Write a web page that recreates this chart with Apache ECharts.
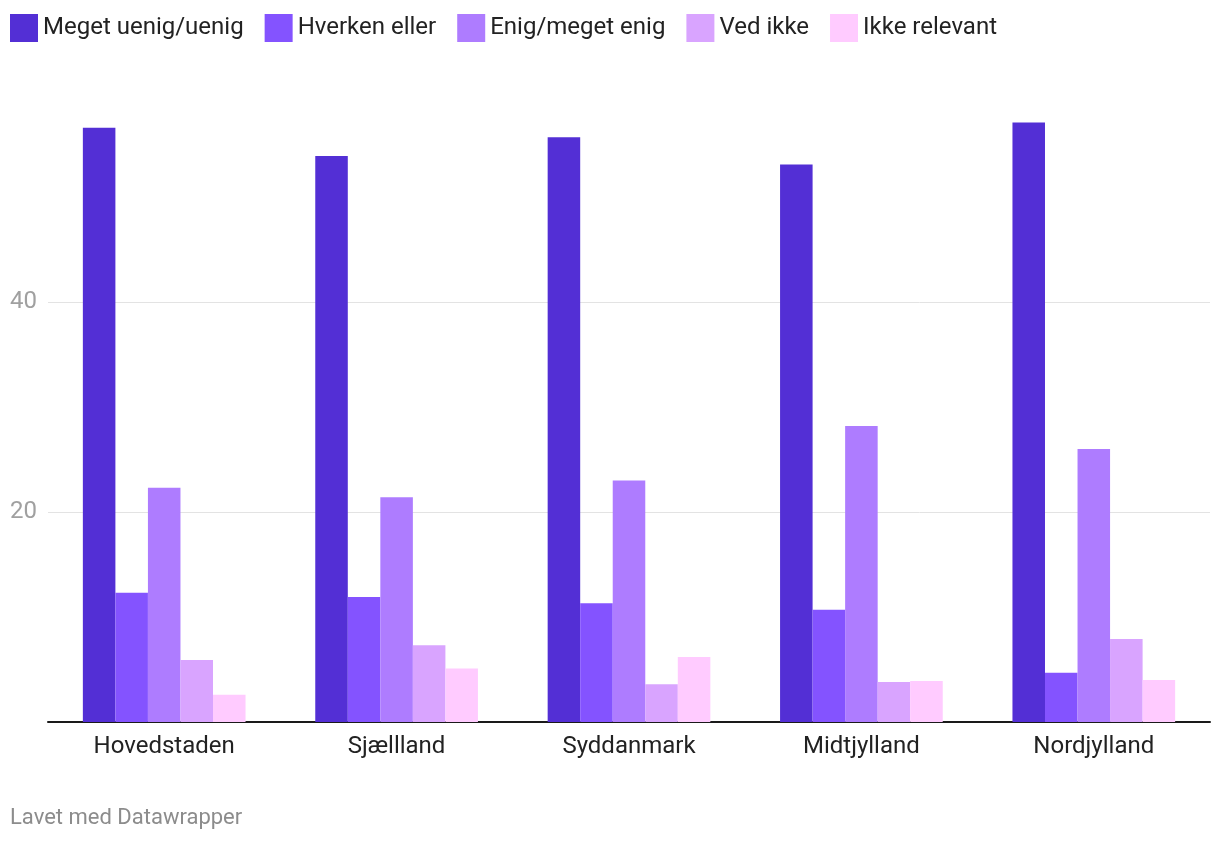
<!DOCTYPE html>
<html>
<head>
<meta charset="utf-8">
<script src="https://cdn.jsdelivr.net/npm/echarts@6/dist/echarts.min.js"></script>
<style>
html,body{margin:0;padding:0;background:#fff;}
#c{width:1220px;height:844px;}
</style>
</head>
<body>
<div id="c"></div>
<script>
const categories = ['Hovedstaden', 'Sjællland', 'Syddanmark', 'Midtjylland', 'Nordjylland'];
const seriesNames = ['Meget uenig/uenig', 'Hverken eller', 'Enig/meget enig', 'Ved ikke', 'Ikke relevant'];
const uenig = [56.6, 53.9, 55.7, 53.1, 57.1];
const hverken = [12.3, 11.9, 11.3, 10.7, 4.7];
const enig = [22.3, 21.4, 23.0, 28.2, 26.0];
const vedIkke = [5.9, 7.3, 3.6, 3.8, 7.9];
const ikkeRelevant = [2.6, 5.1, 6.2, 3.9, 4.0];
const yTicks = [20, 40];
const colors = ['#532fd5', '#8453ff', '#ae7cff', '#d9a4ff', '#ffcbff'];
const values = [uenig, hverken, enig, vedIkke, ikkeRelevant];

const chart = echarts.init(document.getElementById('c'));
chart.setOption({
  animation: false,
  textStyle: { fontFamily: 'Roboto' },
  legend: {
    left: 10, top: 14, padding: 0, itemWidth: 28, itemHeight: 28, itemGap: 21,
    icon: 'rect',
    textStyle: { fontSize: 24, color: '#222', fontFamily: 'Roboto' },
    data: seriesNames
  },
  graphic: [{
    type: 'text', left: 10, top: 807,
    style: { text: 'Lavet med Datawrapper', fontSize: 22, fill: '#8c8c8c', fontFamily: 'Roboto' }
  }],
  grid: { left: 48, right: 10, top: 92, bottom: 122, containLabel: false },
  xAxis: {
    type: 'category',
    data: categories,
    axisTick: { show: false },
    axisLine: { lineStyle: { color: '#1a1a1a', width: 2 } },
    axisLabel: { fontSize: 24, color: '#222', margin: 13, fontFamily: 'Roboto' }
  },
  yAxis: {
    type: 'value', min: 0, max: 60, interval: 20,
    axisLine: { show: false }, axisTick: { show: false },
    axisLabel: {
      fontSize: 24, color: '#a0a0a0', margin: 11, fontFamily: 'Roboto',
      formatter: v => yTicks.indexOf(v) >= 0 ? String(v) : ''
    },
    splitLine: { lineStyle: { color: ['transparent', '#e3e3e3', '#e3e3e3', 'transparent'], width: 1 } }
  },
  series: seriesNames.map((n, i) => ({
    name: n, type: 'bar', data: values[i],
    barGap: '0%', barCategoryGap: '30%',
    itemStyle: { color: colors[i] }
  }))
});
</script>
</body>
</html>
